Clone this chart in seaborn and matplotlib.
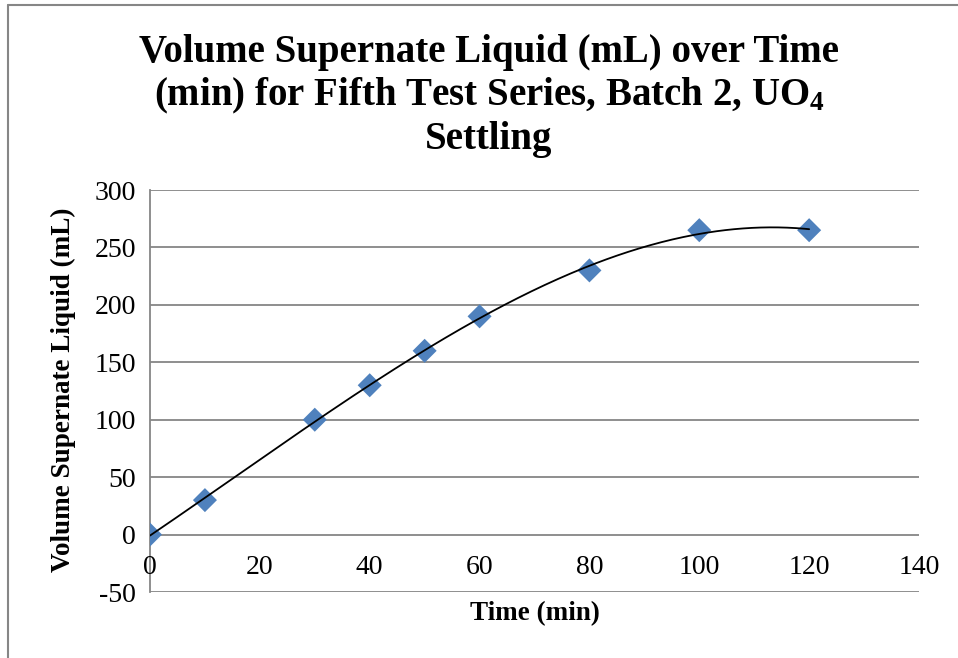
import numpy as np
import pandas as pd
import matplotlib
matplotlib.use("Agg")
import matplotlib.pyplot as plt
from matplotlib.lines import Line2D
import seaborn as sns

# Settling measurements
time_min = [0, 10, 30, 40, 50, 60, 80, 100, 120]
volume_ml = [0, 30, 100, 130, 160, 190, 230, 265, 265]

x_ticks = [0, 20, 40, 60, 80, 100, 120, 140]
y_ticks = [-50, 0, 50, 100, 150, 200, 250, 300]

title = ("Volume Supernate Liquid (mL) over Time\n"
         "(min) for Fifth Test Series, Batch 2, UO$_4$\n"
         "Settling")
x_label = "Time (min)"
y_label = "Volume Supernate Liquid (mL)"

df = pd.DataFrame({"time": time_min, "volume": volume_ml})

sns.set_theme(style="white")
plt.rcParams["font.family"] = ["Liberation Serif", "DejaVu Serif"]
plt.rcParams["mathtext.default"] = "regular"
plt.rcParams["text.color"] = "black"
plt.rcParams["axes.labelcolor"] = "black"
plt.rcParams["xtick.color"] = "black"
plt.rcParams["ytick.color"] = "black"

fig = plt.figure(figsize=(9.58, 6.58), dpi=100)
ax = fig.add_axes([150 / 958, 1 - 592 / 658, (919 - 150) / 958, (592 - 190) / 658])

grid_color = "#868686"

# Polynomial (order 3) trendline through the measurements
coef = np.polyfit(df["time"], df["volume"], 3)
xs = np.linspace(df["time"].min(), df["time"].max(), 300)
trend = pd.DataFrame({"time": xs, "volume": np.polyval(coef, xs)})

sns.scatterplot(data=df, x="time", y="volume", marker="D", s=150,
                color="#4F81BD", edgecolor="none", ax=ax, zorder=3)
sns.lineplot(data=trend, x="time", y="volume", color="black", lw=1.3,
             ax=ax, zorder=4)

ax.set_xlim(0, 140)
ax.set_ylim(-50, 300)
ax.set_xticks(x_ticks)
ax.set_yticks(y_ticks)
ax.set_yticklabels([str(v) for v in y_ticks], fontsize=20)
ax.set_xticklabels([])

ax.grid(axis="y", color=grid_color, lw=1.3)
ax.grid(axis="x", visible=False)
ax.set_axisbelow(True)
for side in ["top", "right", "bottom"]:
    ax.spines[side].set_visible(False)
ax.spines["left"].set_color(grid_color)
ax.spines["left"].set_linewidth(1.3)
ax.tick_params(axis="both", length=0)
ax.tick_params(axis="y", pad=10)

# x tick labels sit just below the zero line
for v in x_ticks:
    ax.annotate(str(v), xy=(v, 0), xycoords="data", xytext=(0, -24),
                textcoords="offset points", ha="center", va="center",
                fontsize=20)

ax.set_xlabel(x_label, fontsize=19.5, fontweight="bold")
ax.set_ylabel(y_label, fontsize=19.5, fontweight="bold")
ax.xaxis.set_label_coords(0.5, -22 / 402)
ax.xaxis.label.set_va("center")
ax.yaxis.set_label_coords((63 - 150) / 769, (592 - 390) / 402)
ax.yaxis.label.set_va("center")

fig.text(489 / 958, 1 - 96 / 658, title, ha="center", va="center",
         fontsize=28, fontweight="bold", linespacing=1.18)

# Outer chart frame (left and top edges)
fig.add_artist(Line2D([8 / 958, 8 / 958], [0, 1 - 5 / 658],
                      transform=fig.transFigure, color=grid_color, lw=1.5))
fig.add_artist(Line2D([8 / 958, 1], [1 - 5 / 658, 1 - 5 / 658],
                      transform=fig.transFigure, color=grid_color, lw=1.5))

ax.set_facecolor("white")
fig.patch.set_facecolor("white")
fig.savefig("out.png", dpi=100)
